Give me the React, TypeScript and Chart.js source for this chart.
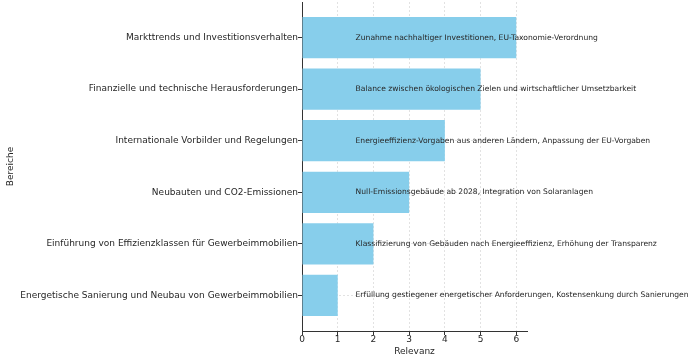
import React, { useEffect, useRef } from "react";
import { Chart, registerables } from "chart.js";

Chart.register(...registerables);

const categories: string[] = [
  "Markttrends und Investitionsverhalten",
  "Finanzielle und technische Herausforderungen",
  "Internationale Vorbilder und Regelungen",
  "Neubauten und CO2-Emissionen",
  "Einführung von Effizienzklassen für Gewerbeimmobilien",
  "Energetische Sanierung und Neubau von Gewerbeimmobilien",
];

const relevance: number[] = [6, 5, 4, 3, 2, 1];

const annotations: string[] = [
  "Zunahme nachhaltiger Investitionen, EU-Taxonomie-Verordnung",
  "Balance zwischen ökologischen Zielen und wirtschaftlicher Umsetzbarkeit",
  "Energieeffizienz-Vorgaben aus anderen Ländern, Anpassung der EU-Vorgaben",
  "Null-Emissionsgebäude ab 2028, Integration von Solaranlagen",
  "Klassifizierung von Gebäuden nach Energieeffizienz, Erhöhung der Transparenz",
  "Erfüllung gestiegener energetischer Anforderungen, Kostensenkung durch Sanierungen",
];

const xTicks: number[] = [0, 1, 2, 3, 4, 5, 6];
const annotationX = 1.5;

const FONT = "'DejaVu Sans', sans-serif";

export default function App() {
  const ref = useRef<HTMLCanvasElement | null>(null);

  useEffect(() => {
    document.body.style.margin = "0";
    const canvas = ref.current;
    if (!canvas) return;

    const annotationPlugin = {
      id: "annot",
      afterDatasetsDraw(chart: any) {
        const ctx = chart.ctx;
        const xs = chart.scales.x;
        const ys = chart.scales.y;
        ctx.save();
        ctx.font = `7.6px ${FONT}`;
        ctx.fillStyle = "#262626";
        ctx.textAlign = "left";
        ctx.textBaseline = "middle";
        annotations.forEach((t, i) => {
          ctx.fillText(t, xs.getPixelForValue(annotationX), ys.getPixelForValue(i));
        });
        ctx.restore();
      },
    };

    const chart = new Chart(canvas, {
      type: "bar",
      data: {
        datasets: [
          {
            data: relevance.map((v, i) => ({ x: v, y: i })),
            backgroundColor: "#87CEEB",
            borderWidth: 0,
            barPercentage: 0.8,
            categoryPercentage: 1,
          },
        ],
      },
      options: {
        indexAxis: "y",
        animation: false,
        responsive: false,
        events: [],
        layout: { padding: { left: 0, right: 169, top: 2, bottom: 0 } },
        plugins: { legend: { display: false }, tooltip: { enabled: false } },
        scales: {
          x: {
            type: "linear",
            min: 0,
            max: 6.3,
            afterBuildTicks: (s: any) => {
              s.ticks = xTicks.map((v) => ({ value: v }));
            },
            afterFit: (s: any) => {
              s.height = 32;
              s.paddingLeft = 0;
              s.paddingRight = 0;
            },
            ticks: {
              font: { family: FONT, size: 9 },
              color: "#262626",
              padding: -1,
              maxRotation: 0,
            },
            grid: {
              color: "#e2e2e2",
              tickColor: "#333",
              tickLength: 4,
              tickWidth: 1,
            },
            border: { color: "#333", width: 1, dash: [2, 2] },
            title: {
              display: true,
              text: "Relevanz",
              font: { family: FONT, size: 9 },
              color: "#262626",
              padding: { top: 1, bottom: 6 },
            },
          },
          y: {
            type: "linear",
            reverse: true,
            offset: false,
            min: -0.69,
            max: 5.69,
            afterBuildTicks: (s: any) => {
              s.ticks = categories.map((_, i) => ({ value: i }));
            },
            afterFit: (s: any) => {
              s.width = 302;
              s.paddingTop = 0;
              s.paddingBottom = 0;
            },
            ticks: {
              font: { family: FONT, size: 9 },
              color: "#262626",
              padding: 0,
              autoSkip: false,
              callback: (v: any) => categories[v as number] ?? "",
            },
            grid: {
              offset: false,
              color: "#e2e2e2",
              tickColor: "#333",
              tickLength: 4,
              tickWidth: 1,
            },
            border: { color: "#333", width: 1, dash: [2, 2] },
            title: {
              display: true,
              text: "Bereiche",
              font: { family: FONT, size: 9 },
              color: "#262626",
              padding: { top: 5, bottom: 0 },
            },
          },
        },
      },
      plugins: [annotationPlugin],
    });

    return () => chart.destroy();
  }, []);

  return <canvas ref={ref} width={696} height={363} style={{ display: "block" }} />;
}
